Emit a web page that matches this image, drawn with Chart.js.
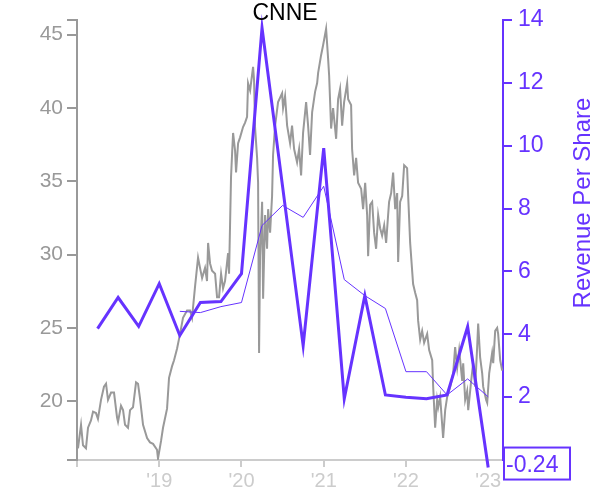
<!DOCTYPE html>
<html>
<head>
<meta charset="utf-8">
<script src="https://cdn.jsdelivr.net/npm/chart.js@4"></script>
<style>
html,body{margin:0;padding:0;background:#fff;}
#wrap{width:600px;height:500px;position:relative;}
</style>
</head>
<body>
<div id="wrap"><canvas id="c" width="600" height="500"></canvas></div>
<script>
const title = "CNNE";
const rightAxisTitle = "Revenue Per Share";
const xTickYears = [2018, 2019, 2020, 2021, 2022, 2023];
const leftTicks = [20, 25, 30, 35, 40, 45];
const rightTicks = [2, 4, 6, 8, 10, 12, 14];

const revQuarters = [2018.25,2018.5,2018.75,2019.0,2019.25,2019.5,2019.75,2020.0,2020.25,2020.5,2020.75,2021.0,2021.25,2021.5,2021.75,2022.0,2022.25,2022.5,2022.75,2023.0];
const revValues = [4.18,5.17,4.25,5.61,3.96,5.01,5.04,5.93,13.75,8.7,3.64,9.92,1.95,5.23,2.07,2.0,1.95,2.07,4.24,-0.24];

const ttmQuarters = [2019.25,2019.5,2019.75,2020.0,2020.25,2020.5,2020.75,2021.0,2021.25,2021.5,2021.75,2022.0,2022.25,2022.5,2022.75,2023.0];
const ttmValues = [4.73,4.69,4.88,5.01,7.46,8.10,7.72,8.71,5.74,5.23,4.82,2.81,2.81,2.07,2.58,2.01];

const priceYears = [2018.012,2018.049,2018.073,2018.109,2018.134,2018.170,2018.195,2018.231,2018.255,2018.292,2018.328,2018.353,2018.377,2018.414,2018.450,2018.487,2018.499,2018.535,2018.560,2018.584,2018.620,2018.645,2018.681,2018.718,2018.742,2018.766,2018.803,2018.852,2018.888,2018.925,2018.973,2018.985,2019.022,2019.046,2019.095,2019.119,2019.156,2019.180,2019.217,2019.253,2019.289,2019.338,2019.375,2019.399,2019.435,2019.472,2019.496,2019.521,2019.557,2019.581,2019.594,2019.618,2019.642,2019.679,2019.703,2019.727,2019.752,2019.776,2019.800,2019.837,2019.849,2019.873,2019.886,2019.898,2019.922,2019.934,2019.959,2019.983,2020.019,2020.044,2020.068,2020.080,2020.105,2020.141,2020.153,2020.165,2020.190,2020.202,2020.214,2020.226,2020.251,2020.263,2020.287,2020.311,2020.324,2020.348,2020.372,2020.384,2020.409,2020.445,2020.494,2020.506,2020.530,2020.555,2020.591,2020.615,2020.640,2020.676,2020.701,2020.725,2020.749,2020.786,2020.810,2020.834,2020.859,2020.895,2020.920,2020.932,2020.968,2020.993,2021.029,2021.053,2021.066,2021.090,2021.114,2021.151,2021.175,2021.199,2021.224,2021.248,2021.285,2021.297,2021.333,2021.345,2021.370,2021.394,2021.418,2021.455,2021.479,2021.504,2021.528,2021.540,2021.564,2021.589,2021.613,2021.637,2021.662,2021.686,2021.710,2021.735,2021.759,2021.783,2021.795,2021.820,2021.844,2021.869,2021.893,2021.905,2021.929,2021.954,2021.978,2022.014,2022.027,2022.051,2022.087,2022.112,2022.136,2022.148,2022.173,2022.197,2022.221,2022.258,2022.282,2022.319,2022.331,2022.355,2022.379,2022.392,2022.416,2022.452,2022.477,2022.501,2022.538,2022.574,2022.598,2022.623,2022.647,2022.684,2022.696,2022.720,2022.744,2022.757,2022.793,2022.817,2022.842,2022.866,2022.878,2022.902,2022.927,2022.939,2022.975,2022.988,2023.012,2023.048,2023.061,2023.085,2023.109,2023.121,2023.146,2023.170];
const priceValues = [16.8,18.4,17.0,16.8,18.2,18.7,19.3,19.2,18.8,20.1,21.0,21.2,20.1,20.6,20.6,18.9,18.6,19.7,19.4,18.4,18.2,19.4,19.6,21.3,21.2,20.2,18.4,17.5,17.2,17.1,16.7,16.1,17.3,18.2,19.5,21.6,22.4,22.8,23.6,24.6,25.7,26.2,26.2,25.7,27.8,29.8,29.1,28.4,29.1,28.2,30.8,29.4,28.9,28.7,27.1,27.1,28.7,27.7,28.2,30.1,28.7,35.3,36.9,38.3,37.1,35.6,37.6,38.0,38.7,39.0,39.4,41.7,41.2,42.8,41.9,38.7,36.6,34.9,23.3,29.9,33.6,27.0,32.7,30.4,33.1,31.5,34.0,36.8,38.8,40.4,41.0,40.0,40.8,38.8,37.6,38.8,37.2,36.3,37.2,35.4,38.3,40.4,38.8,36.8,39.7,41.1,41.7,42.4,43.6,44.3,45.4,43.4,42.2,38.6,40.0,37.9,40.6,41.3,38.8,40.4,41.7,40.6,40.2,37.2,35.4,36.6,34.9,34.5,33.1,34.9,32.7,29.9,33.4,33.6,31.5,30.4,32.7,31.8,31.3,32.0,30.8,32.7,33.6,34.2,35.6,33.1,34.2,29.5,33.6,34.0,36.1,35.9,34.0,30.8,28.0,27.4,26.9,25.5,24.2,24.8,24.0,24.6,23.5,22.8,21.0,18.2,20.1,19.6,20.3,17.5,19.4,20.3,21.0,21.9,23.7,22.3,23.5,21.4,22.6,20.1,20.7,19.4,21.4,22.6,21.0,23.7,25.3,23.0,21.9,21.0,20.1,19.9,21.9,23.3,22.6,24.8,25.0,24.6,22.8,22.1];

const PURPLE = '#6633ff';
const GREY = '#999999';
const LIGHT = '#cccccc';
const FONT = "'Liberation Sans', Arial, sans-serif";

function pts(xs, ys){ return xs.map((x,i)=>({x:x, y:ys[i]})); }

const overlay = {
  id: 'overlay',
  afterDraw(chart){
    const ctx = chart.ctx;
    const ca = chart.chartArea;
    const yR = chart.scales.yR;
    ctx.save();
    ctx.fillStyle = '#000';
    ctx.font = '23px ' + FONT;
    ctx.textAlign = 'center';
    ctx.textBaseline = 'alphabetic';
    ctx.fillText(title, 285, 20);
    ctx.save();
    ctx.translate(590, 203);
    ctx.rotate(-Math.PI/2);
    ctx.fillStyle = PURPLE;
    ctx.font = '24px ' + FONT;
    ctx.textAlign = 'center';
    ctx.fillText(rightAxisTitle, 0, 0);
    ctx.restore();
    const last = revValues[revValues.length-1];
    const py = yR.getPixelForValue(last);
    const bx = ca.right, by = py - 20, bw = 67, bh = 32;
    ctx.fillStyle = '#fff';
    ctx.fillRect(bx, by, bw, bh);
    ctx.strokeStyle = PURPLE;
    ctx.lineWidth = 2;
    ctx.strokeRect(bx + 1, by, bw - 1, bh);
    ctx.fillStyle = PURPLE;
    ctx.font = '23px ' + FONT;
    ctx.textAlign = 'left';
    ctx.textBaseline = 'alphabetic';
    ctx.fillText(last.toFixed(2), bx + 3, py + 4.5);
    ctx.restore();
  }
};

new Chart(document.getElementById('c'), {
  type: 'line',
  data: {
    datasets: [
      { data: pts(revQuarters, revValues), yAxisID: 'yR', borderColor: PURPLE, borderWidth: 3, pointRadius: 0, tension: 0, clip: false, borderJoinStyle: 'miter' },
      { data: pts(ttmQuarters, ttmValues), yAxisID: 'yR', borderColor: PURPLE, borderWidth: 1, pointRadius: 0, tension: 0 },
      { data: pts(priceYears, priceValues), yAxisID: 'yL', borderColor: GREY, borderWidth: 2, pointRadius: 0, tension: 0 }
    ]
  },
  options: {
    responsive: false,
    animation: false,
    layout: { padding: { top: 20, left: 0, right: 0, bottom: 0 } },
    plugins: { legend: { display: false }, tooltip: { enabled: false }, title: { display: false } },
    scales: {
      x: {
        type: 'linear', position: 'bottom', min: 2018, max: 2023.18,
        afterBuildTicks(s){ s.ticks = xTickYears.map(v=>({value:v})); },
        afterFit(s){ s.height = 40; },
        ticks: { color: LIGHT, font: { size: 20, family: FONT }, padding: 2, maxRotation: 0, autoSkip: false,
          callback: v => v === xTickYears[0] ? '' : "'" + String(v).slice(2) },
        grid: { drawOnChartArea: false, drawTicks: true, tickLength: 7, color: LIGHT, lineWidth: 2 },
        border: { color: LIGHT, width: 2 }
      },
      yL: {
        type: 'linear', position: 'left', min: 16, max: 46,
        afterBuildTicks(s){ s.ticks = [16].concat(leftTicks, [46]).map(v=>({value:v})); },
        afterFit(s){ s.width = 77; },
        ticks: { color: GREY, font: { size: 21, family: FONT }, padding: 4, autoSkip: false,
          callback: v => leftTicks.includes(v) ? String(v) : '' },
        grid: { drawOnChartArea: false, drawTicks: true, tickLength: 10, color: GREY, lineWidth: 2 },
        border: { color: GREY, width: 2 }
      },
      yR: {
        type: 'linear', position: 'right', min: 0, max: 14,
        afterBuildTicks(s){ s.ticks = rightTicks.map(v=>({value:v})); },
        afterFit(s){ s.width = 97; },
        ticks: { color: PURPLE, font: { size: 23, family: FONT }, padding: 6, autoSkip: false },
        grid: { drawOnChartArea: false, drawTicks: true, tickLength: 9, color: PURPLE, lineWidth: 2 },
        border: { color: PURPLE, width: 2 }
      }
    }
  },
  plugins: [overlay]
});
</script>
</body>
</html>
